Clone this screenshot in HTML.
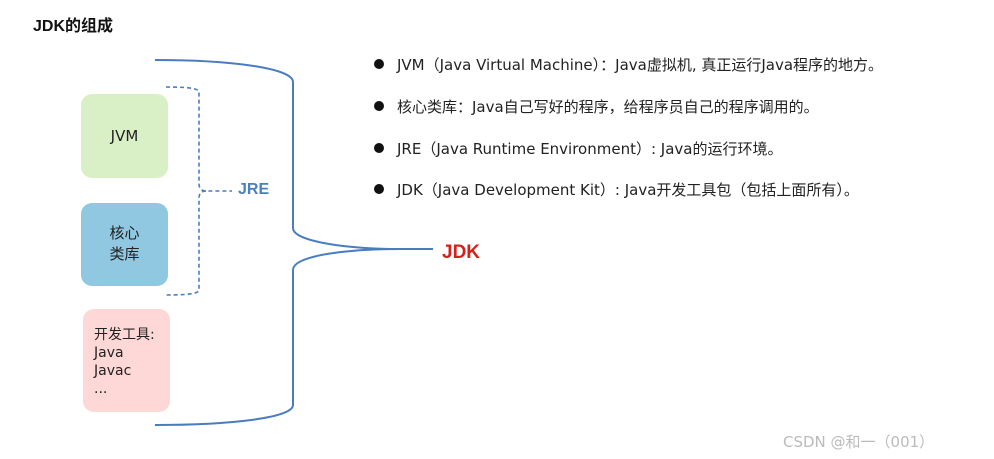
<!DOCTYPE html>
<html><head><meta charset="utf-8"><style>
body{margin:0;width:994px;height:459px;background:#fff;position:relative;overflow:hidden;font-family:"Liberation Sans","Noto Sans CJK SC",sans-serif;}
.t{position:absolute;white-space:nowrap;}
.box{position:absolute;border-radius:11px;}
.b{position:absolute;left:397px;font-size:15px;color:#222;white-space:nowrap;font-family:"DejaVu Sans","Noto Sans CJK SC",sans-serif;}
.d{position:absolute;left:374px;width:10px;height:10px;border-radius:50%;background:#111;}
</style></head><body>
<div class="t" style="left:33px;top:12px;font-size:16px;font-weight:bold;color:#111;">JDK的组成</div>
<div class="box" style="left:81px;top:94px;width:87px;height:84px;background:#d9efc6;"></div>
<div class="t" style="left:81px;top:127px;width:87px;text-align:center;font-size:15px;color:#222;font-family:'DejaVu Sans',sans-serif;">JVM</div>
<div class="box" style="left:81px;top:203px;width:87px;height:83px;background:#8fc8e0;"></div>
<div class="t" style="left:81px;top:223px;width:87px;text-align:center;font-size:15px;line-height:21px;color:#222;">核心<br>类库</div>
<div class="box" style="left:83px;top:309px;width:87px;height:103px;background:#fdd8d6;"></div>
<div class="t" style="left:94px;top:326px;font-size:14px;line-height:18px;color:#222;font-family:'DejaVu Sans','Noto Sans CJK SC',sans-serif;">开发工具:<br>Java<br>Javac<br>...</div>
<svg width="994" height="459" style="position:absolute;left:0;top:0">
<path d="M155 60 C230 60 293 68 293 82 L293 228 C293 242 350 249 400 249 L433 249" fill="none" stroke="#4a7dc0" stroke-width="2"/>
<path d="M433 249 L400 249 C350 249 293 255 293 270 L293 405 C293 418 230 425 155 425" fill="none" stroke="#4a7dc0" stroke-width="2"/>
<path d="M166 87 C185 87 199 88 199 92 L199 184 C199 188 201 191 206 191 L232 191 M206 191 C201 191 199 194 199 198 L199 290 C199 294 185 295 166 295" fill="none" stroke="#4a7dc0" stroke-width="1.6" stroke-dasharray="4,3"/>
</svg>
<div class="t" style="left:238px;top:181px;font-size:16px;font-weight:bold;color:#4a7fc1;">JRE</div>
<div class="t" style="left:442px;top:242px;font-size:19px;font-weight:bold;color:#d2221b;">JDK</div>
<div class="d" style="top:59px"></div><div class="b" style="top:54px">JVM（Java Virtual Machine）：Java虚拟机, 真正运行Java程序的地方。</div>
<div class="d" style="top:101px"></div><div class="b" style="top:96px">核心类库：Java自己写好的程序，给程序员自己的程序调用的。</div>
<div class="d" style="top:143px"></div><div class="b" style="top:138px">JRE（Java Runtime Environment）: Java的运行环境。</div>
<div class="d" style="top:184px"></div><div class="b" style="top:179px">JDK（Java Development Kit）: Java开发工具包（包括上面所有）。</div>
<div class="t" style="left:783px;top:431px;font-size:15px;color:#bbb;font-family:'DejaVu Sans','Noto Sans CJK SC',sans-serif;">CSDN @和一（001）</div>
</body></html>
